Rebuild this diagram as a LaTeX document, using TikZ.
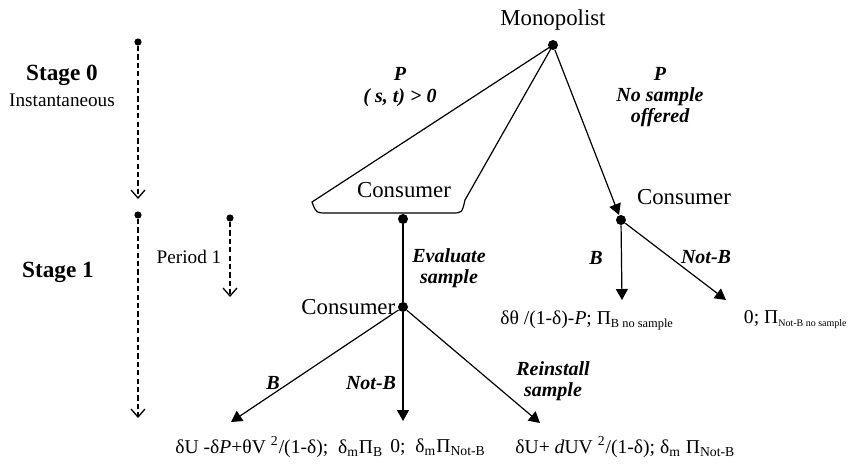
\documentclass[tikz,border=0pt]{standalone}
\usepackage{fontspec}
\setmainfont{Liberation Serif}
\usetikzlibrary{arrows.meta}

\newcommand{\smallsub}[2]{\textsubscript{\fontsize{#1}{#1}\selectfont #2}}

\begin{document}
\begin{tikzpicture}[
  x=0.5pt, y=-0.5pt,
  font=\fontsize{11.4}{13}\selectfont,
  dot/.style={circle, fill=black, inner sep=0pt, minimum size=5pt},
  tdot/.style={circle, fill=black, inner sep=0pt, minimum size=3.6pt},
  edge/.style={-{Triangle[length=5.5pt,width=6pt]}, line width=.6pt},
  tline/.style={dash pattern=on 2.6pt off 1.6pt, line width=.65pt, -{Straight Barb[length=4pt,width=7pt]}},
  stage/.style={font=\fontsize{11.6}{13}\selectfont\bfseries},
  note/.style={font=\fontsize{9.6}{11}\selectfont},
  act/.style={font=\fontsize{10}{10.6}\selectfont\bfseries\itshape, align=center},
  pay/.style={font=\fontsize{9.8}{12}\selectfont, inner sep=0pt}
]
\useasboundingbox (0,0) rectangle (852,465);

% Time line on the left
\node[stage] (stage0) at (62,75) {Stage 0};
\node[note] (inst) at (62,100) {Instantaneous};
\node[stage] (stage1) at (58,272) {Stage 1};
\node[note] (period) at (189,257) {Period 1};
\node[tdot] (t0) at (138,42) {};
\node[tdot] (t1) at (138,215) {};
\node[tdot] (tp) at (230,218) {};
\coordinate (t0end) at (138,199);
\coordinate (t1end) at (138,418);
\coordinate (tpend) at (230,297);
\draw[tline] (t0) -- (t0end);
\draw[tline] (t1) -- (t1end);
\draw[tline] (tp) -- (tpend);

% Decision nodes
\node[dot] (mono) at (553,45) {};
\node (monolbl) at (553,20) {Monopolist};
\node[dot] (cons1) at (403,219) {};
\node (cons1lbl) at (404,190) {Consumer};
\node[dot] (cons2) at (403,307) {};
\node[anchor=east, inner sep=1pt] (cons2lbl) at (cons2.west) {Consumer};
\node[dot] (consr) at (621,220) {};
\node (consrlbl) at (684,197) {Consumer};

% Information set of the sample branch
\draw[line width=.6pt] (mono.center) -- (312,202) .. controls (316,213) .. (328,213)
  -- (452,213) .. controls (462,213) .. (465,200) -- cycle;
\draw[line width=.6pt] (cons1) -- (cons2);
\draw[edge] (mono) -- (consr);

% Arrow ends
\coordinate (rb) at (622,300);
\coordinate (rn) at (726,300);
\coordinate (lb) at (231,422);
\coordinate (ln) at (403,421);
\coordinate (lr) at (540,423);
\draw[edge] (consr) -- (rb);
\draw[edge] (consr) -- (rn);
\draw[edge] (cons2) -- (lb);
\draw[edge] (cons2) -- (ln);
\draw[edge] (cons2) -- (lr);

% Action labels
\node[act] (aleft) at (400,87) {P\\( s, t) > 0};
\node[act] (aright) at (660,97) {P\\No sample\\offered};
\node[act] (aeval) at (449,268) {Evaluate\\sample};
\node[act] (arb) at (596,258) {B};
\node[act] (arn) at (706,257) {Not-B};
\node[act] (alb) at (273,383) {B};
\node[act] (aln) at (371,383) {Not-B};
\node[act] (alr) at (553,381) {Reinstall\\sample};

% Payoffs
\node[pay, anchor=west] (payrb) at (500,320) {δθ /(1-δ)-\textit{P}; Π\smallsub{6.2}{B no sample}};
\node[pay, anchor=east] (payrn) at (848,320) {0; Π\smallsub{5}{Not-B no sample}};
\node[pay, anchor=west] (paylb) at (175,447) {δU -δ\textit{P}+θV \textsuperscript{2}/(1-δ);~ δ\textsubscript{m}Π\textsubscript{B}};
\node[pay, anchor=west] (payln) at (390,447) {0;~ δ\textsubscript{m}Π\textsubscript{Not-B}};
\node[pay, anchor=west] (paylr) at (515,447) {δU+ \textit{d}UV \textsuperscript{2}/(1-δ); δ\textsubscript{m} Π\textsubscript{Not-B}};
\end{tikzpicture}
\end{document}
